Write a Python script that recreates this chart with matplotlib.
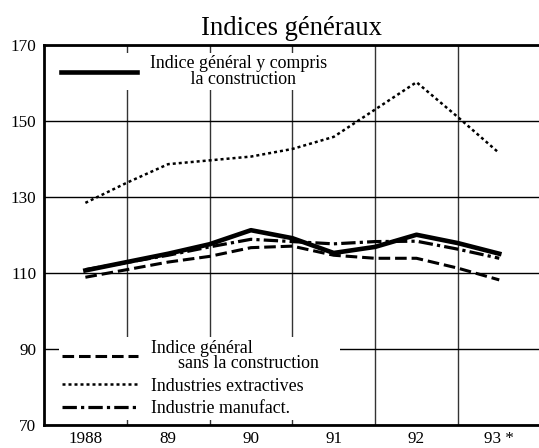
import matplotlib
matplotlib.use("Agg")
import matplotlib.pyplot as plt

plt.rcParams["font.family"] = ["Liberation Serif", "DejaVu Serif"]

# points semestriels, 1988 -> 1993 (0 = 1988)
periodes = [0, 0.5, 1, 1.5, 2, 2.5, 3, 3.5, 4, 4.5, 5]
annees = ["1988", "89", "90", "91", "92", "93 *"]

avec_construction = [110.6, 112.8, 115.0, 117.5, 121.2, 119.1, 115.2, 116.8, 120.0, 117.8, 115.0]
sans_construction = [108.8, 110.8, 112.8, 114.3, 116.6, 117.0, 114.6, 113.8, 113.8, 111.2, 108.1]
extractives = [128.4, 133.7, 138.6, 139.6, 140.6, 142.6, 145.8, 153.0, 160.2, 151.0, 141.5]
manufact = [110.8, 112.7, 114.6, 116.8, 118.8, 118.2, 117.6, 118.2, 118.3, 116.2, 113.8]

fig = plt.figure(figsize=(5.39, 4.48), dpi=100)
ax = fig.add_axes([44 / 539, 1 - 424.5 / 448, 495 / 539, 379.5 / 448])

l_ext, = ax.plot(periodes, extractives, color="k", lw=1.8, dashes=(1.2, 1.2), zorder=3)
l_sans, = ax.plot(periodes, sans_construction, color="k", lw=2.2, dashes=(3.8, 1.6), zorder=3)
l_man, = ax.plot(periodes, manufact, color="k", lw=2.3, dashes=(4.5, 1.3, 1.0, 1.3), zorder=3)
l_avec, = ax.plot(periodes, avec_construction, color="k", lw=3.3, zorder=4)

ax.set_xlim(-0.5, 5.48)
ax.set_ylim(70, 170)
ax.set_xticks(range(len(annees)))
ax.set_xticklabels(annees)
ax.set_xticks([i + 0.5 for i in range(len(annees) - 1)], minor=True)
ax.set_yticks(range(70, 171, 20))
ax.tick_params(axis="both", which="both", length=0, labelsize=12.3)
ax.tick_params(axis="x", pad=4.5)
ax.tick_params(axis="y", pad=5.5)

ax.set_axisbelow(True)
ax.grid(axis="x", which="minor", color="#333333", lw=1.0)
ax.grid(axis="y", which="major", color="k", lw=1.0)

for s in ["left", "top", "bottom"]:
    ax.spines[s].set_linewidth(2.0)
ax.spines["right"].set_visible(False)

ax.set_title("Indices généraux", fontsize=19.2, pad=7.5)

leg_style = dict(frameon=True, facecolor="white", edgecolor="none", framealpha=1,
                 fancybox=False, fontsize=12.9, handlelength=4.25, handletextpad=0.73,
                 borderaxespad=0)

leg1 = ax.legend(handles=[l_avec], labels=["Indice général y compris\n         la construction"],
                 loc="upper left", bbox_to_anchor=(0.030, 0.978), borderpad=0.1, **leg_style)
for t in leg1.get_texts():
    t.set_linespacing(0.9)
ax.add_artist(leg1)

leg2 = ax.legend(handles=[l_sans, l_ext, l_man],
                 labels=["Indice général\n      sans la construction    ",
                         "Industries extractives", "Industrie manufact."],
                 loc="lower left", bbox_to_anchor=(0.031, 0.012), labelspacing=0.31,
                 borderpad=0.15, **leg_style)
for t in leg2.get_texts():
    t.set_linespacing(0.85)

fig.savefig("out.png", dpi=100)
